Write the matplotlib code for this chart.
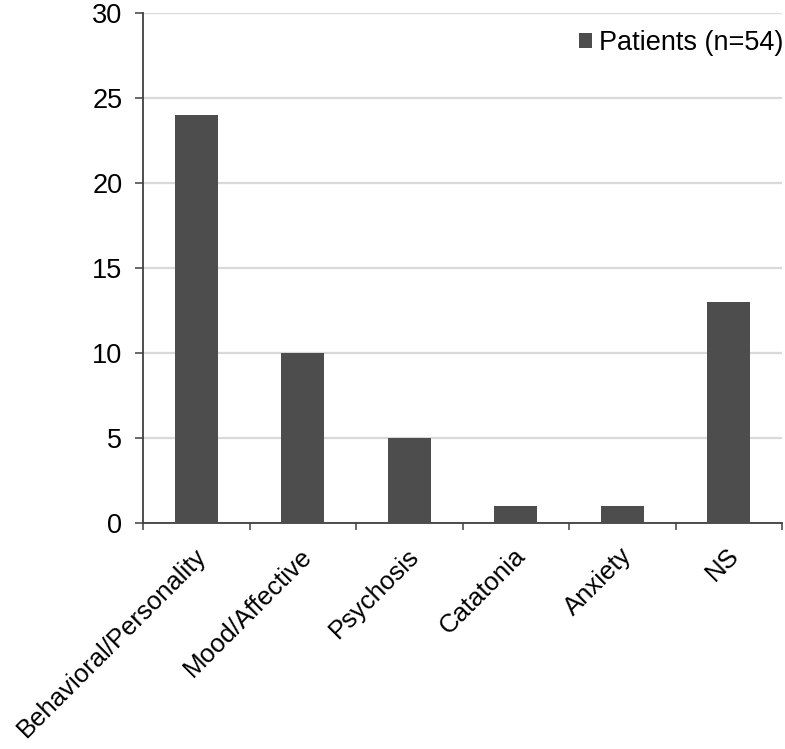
import matplotlib.pyplot as plt
import matplotlib.transforms as mtransforms
import numpy as np

categories = ["Behavioral/Personality", "Mood/Affective", "Psychosis",
              "Catatonia", "Anxiety", "NS"]
patients = [24, 10, 5, 1, 1, 13]
series_label = "Patients (n=54)"

plt.rcParams["font.family"] = ["Liberation Sans", "DejaVu Sans"]
FS = 19.5

fig = plt.figure(figsize=(7.85, 7.49), dpi=100)
ax = fig.add_axes([143 / 785, 226 / 749, 639 / 785, 510 / 749])

x = np.arange(len(categories))
ax.bar(x, patients, width=0.4, color="#4d4d4d", label=series_label, zorder=3)

ax.set_xlim(-0.5, len(categories) - 0.5)
ax.set_ylim(0, 30)
ax.set_yticks(range(0, 31, 5))
ax.yaxis.grid(True, color="#d9d9d9", linewidth=1.6, zorder=0)

# ticks at category boundaries, labels at centers
ax.set_xticks(np.arange(-0.5, len(categories), 1.0))
ax.set_xticklabels([])
ax.set_xticks(x, minor=True)
ax.set_xticklabels(categories, minor=True, rotation=45, ha="right",
                   va="center", rotation_mode="anchor", fontsize=18.5)
ax.tick_params(axis="x", which="minor", length=0, pad=21)
ax.tick_params(axis="x", which="major", length=5, width=1.1, color="#404040",
               direction="out")
ax.tick_params(axis="y", length=5.8, width=1.1, color="#404040",
               labelsize=FS, pad=9)

shift = mtransforms.ScaledTranslation(6 / 100, 0, fig.dpi_scale_trans)
for lbl in ax.get_xticklabels(minor=True):
    lbl.set_transform(lbl.get_transform() + shift)

for side in ["top", "right"]:
    ax.spines[side].set_visible(False)
for side in ["left", "bottom"]:
    ax.spines[side].set_color("#404040")
    ax.spines[side].set_linewidth(1.3)

ax.legend(loc="upper right", frameon=False, fontsize=FS, handlelength=0.48,
          handleheight=0.48, handletextpad=0.25, borderpad=0,
          borderaxespad=0, bbox_to_anchor=(783 / 785, (749 - 30) / 749),
          bbox_transform=fig.transFigure)

fig.savefig("out.png", dpi=100)
